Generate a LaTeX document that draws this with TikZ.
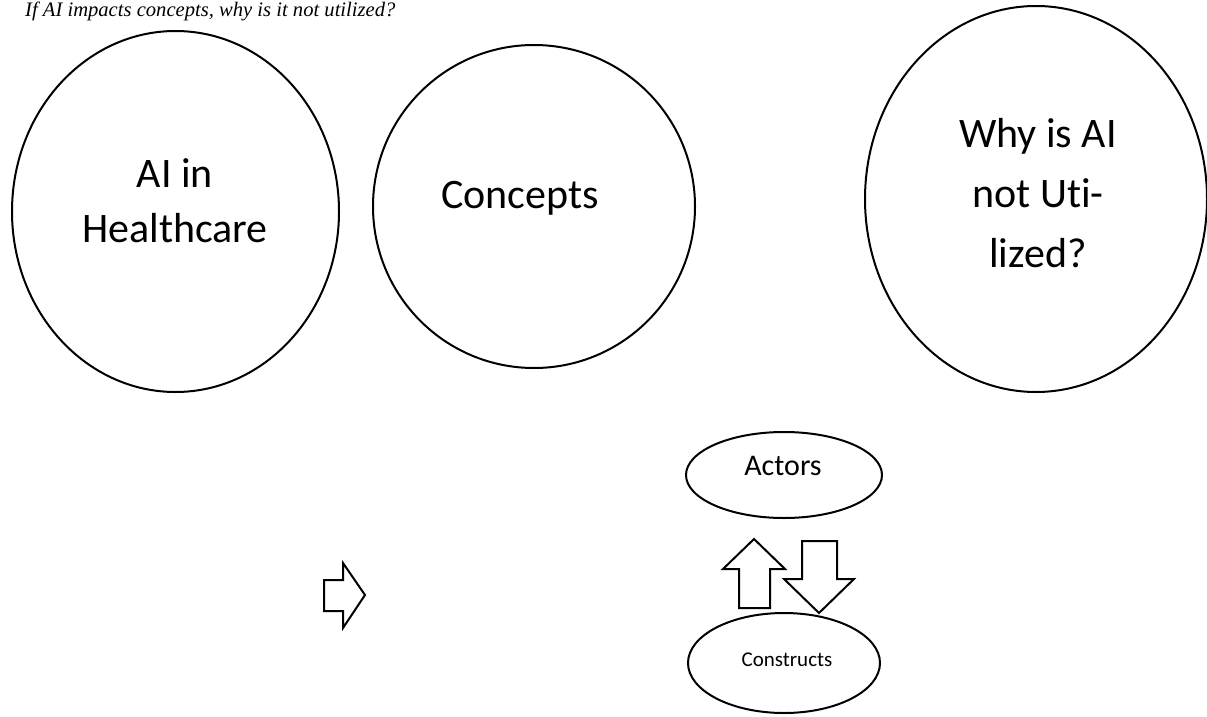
\documentclass[tikz,border=0pt]{standalone}
\usepackage{fontspec}
\setmainfont{Liberation Serif}
\newfontfamily\calibri[Ligatures={NoCommon,NoRequired,NoContextual}]{Carlito}
\usetikzlibrary{shapes.geometric}
\begin{document}
\begin{tikzpicture}[x=1pt,y=-1pt,
  bub/.style={draw, line width=2pt, ellipse, inner sep=0pt},
  bigtext/.style={font=\calibri\fontsize{42}{#1}\selectfont, align=center, anchor=base, inner sep=0pt},
  bigtext/.default=56,
  blockarrow/.style={draw, line width=2pt, line join=miter, fill=white}]
\useasboundingbox (0,0) rectangle (1207,717);
% title
\node[anchor=base west, font=\itshape\fontsize{20.6}{24}\selectfont, inner sep=0pt] (title) at (25,17) {If AI impacts concepts, why is it not utilized?};
% big ellipses
\node[bub, minimum width=327pt, minimum height=361pt] (health) at (175.5,211.5) {};
\node[bub, minimum width=322pt, minimum height=323pt] (concepts) at (534,206.5) {};
\node[bub, minimum width=342pt, minimum height=386pt] (why) at (1036,199) {};
\node[bigtext=55] (healthT) at (175,242) {AI in\\Healthcare};
\node[bigtext] (conceptsT) at (520,208) {Concepts};
\node[bigtext=60] (whyT) at (1038,267) {Why is AI\\not Uti-\\lized?};
% small ellipses
\node[bub, minimum width=196pt, minimum height=86pt] (actors) at (784,475) {};
\node[anchor=base, inner sep=0pt, font=\calibri\fontsize{30}{36}\selectfont] (actorsT) at (783,475) {Actors};
\node[bub, minimum width=192pt, minimum height=100pt] (constructs) at (784,663) {};
\node[anchor=base, inner sep=0pt, font=\calibri\fontsize{21}{25}\selectfont] (constructsT) at (787,666) {Constructs};
% block arrows
\draw[blockarrow] (324,580) -- (343,580) -- (343,563) -- (365,595) -- (343,628) -- (343,611) -- (324,611) -- cycle;
\draw[blockarrow] (739,608) -- (739,569) -- (723,569) -- (754,539) -- (785,569) -- (770,569) -- (770,608) -- cycle;
\draw[blockarrow] (802,541) -- (837,541) -- (837,579) -- (854,579) -- (819,613) -- (784,579) -- (802,579) -- cycle;
\end{tikzpicture}
\end{document}
